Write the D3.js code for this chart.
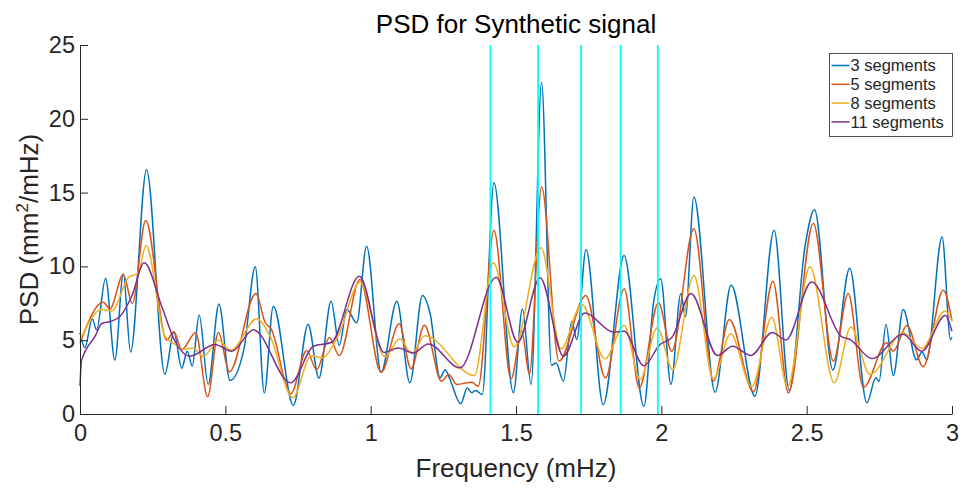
<!DOCTYPE html>
<html>
<head>
<meta charset="utf-8">
<script src="https://d3js.org/d3.v7.min.js"></script>
<style>
  body { margin: 0; background: #fff; }
  text { font-family: "Liberation Sans", Arial, sans-serif; fill: #262626; }
</style>
</head>
<body>
<div id="chart"></div>
<script>
// PSD estimates, [frequency mHz, PSD] read at the turning points of each curve
const seg3 = [
  [0.000, 5.5], [0.017, 4.5], [0.042, 6.45], [0.057, 5.7], [0.088, 9.2], [0.120, 3.65],
  [0.149, 9.5], [0.174, 4.2], [0.229, 16.55], [0.292, 2.7], [0.323, 5.55], [0.350, 3.1],
  [0.369, 4.25], [0.386, 3.25], [0.410, 6.7], [0.441, 2.0], [0.478, 7.45], [0.516, 2.27],
  [0.564, 4.4], [0.603, 9.97], [0.634, 1.42], [0.665, 7.3], [0.734, 0.58], [0.785, 6.06],
  [0.822, 2.43], [0.864, 7.64], [0.892, 4.64], [0.918, 7.08], [0.952, 6.18], [0.986, 11.37],
  [1.036, 2.83], [1.090, 7.64], [1.135, 2.11], [1.178, 8.03], [1.204, 6.86], [1.239, 2.45],
  [1.256, 3.0], [1.273, 2.34], [1.310, 0.69], [1.332, 1.77], [1.348, 1.44], [1.361, 1.6],
  [1.384, 1.32], [1.424, 15.66], [1.491, 1.44], [1.522, 7.12], [1.552, 2.0], [1.588, 22.48],
  [1.622, 3.3], [1.638, 3.45], [1.663, 2.22], [1.692, 6.29], [1.709, 5.05], [1.741, 11.15],
  [1.800, 0.64], [1.872, 10.74], [1.940, 0.53], [1.973, 7.53], [1.998, 9.16], [2.033, 2.0],
  [2.067, 8.16], [2.083, 6.6], [2.112, 14.7], [2.185, 1.48], [2.240, 8.72], [2.322, 1.21],
  [2.388, 12.45], [2.440, 1.61], [2.495, 11.45], [2.527, 13.83], [2.590, 2.98], [2.648, 9.88],
  [2.707, 0.76], [2.738, 2.45], [2.749, 2.2], [2.773, 6.06], [2.798, 2.6], [2.832, 7.08],
  [2.878, 3.67], [2.897, 4.2], [2.913, 3.69], [2.966, 12.0], [2.995, 5.05], [3.000, 5.2]
];
const seg5 = [
  [0.000, 4.8], [0.080, 7.57], [0.103, 7.13], [0.149, 9.45], [0.180, 7.49], [0.226, 13.11],
  [0.298, 5.0], [0.323, 5.57], [0.350, 4.37], [0.398, 5.5], [0.439, 1.17], [0.476, 5.54],
  [0.514, 2.86], [0.605, 8.16], [0.637, 6.2], [0.657, 5.8], [0.725, 1.37], [0.780, 4.3],
  [0.814, 3.0], [0.858, 5.16], [0.892, 3.96], [0.963, 9.11], [1.036, 2.83], [1.098, 6.11],
  [1.139, 3.06], [1.185, 6.02], [1.244, 2.22], [1.269, 2.68], [1.296, 2.0], [1.348, 2.15],
  [1.370, 1.88], [1.424, 12.45], [1.483, 2.38], [1.520, 5.61], [1.546, 2.68], [1.588, 15.39],
  [1.648, 3.58], [1.740, 8.03], [1.808, 2.45], [1.872, 8.48], [1.924, 1.77], [1.990, 7.53],
  [2.036, 4.25], [2.112, 12.55], [2.179, 2.22], [2.234, 6.4], [2.317, 1.5], [2.384, 9.0],
  [2.437, 1.44], [2.523, 12.9], [2.592, 3.58], [2.643, 8.16], [2.695, 1.8], [2.775, 4.82],
  [2.798, 4.25], [2.845, 6.0], [2.901, 3.2], [2.970, 8.39], [3.000, 6.3]
];
const seg8 = [
  [0.000, 5.0], [0.075, 7.08], [0.109, 6.97], [0.166, 9.23], [0.201, 9.57], [0.227, 11.42],
  [0.292, 5.27], [0.327, 4.71], [0.355, 4.37], [0.390, 4.48], [0.424, 3.88], [0.476, 5.0],
  [0.519, 4.32], [0.608, 6.45], [0.654, 5.27], [0.732, 1.1], [0.795, 3.95], [0.831, 3.8],
  [0.888, 5.27], [0.963, 8.93], [1.049, 3.88], [1.101, 5.1], [1.141, 4.1], [1.187, 5.3],
  [1.357, 2.6], [1.422, 10.24], [1.494, 4.55], [1.586, 11.26], [1.655, 4.42], [1.726, 7.42],
  [1.806, 3.74], [1.872, 6.0], [1.927, 2.34], [1.986, 5.84], [2.039, 3.0], [2.112, 9.38],
  [2.179, 2.38], [2.238, 5.43], [2.311, 1.84], [2.380, 6.56], [2.434, 1.84], [2.511, 9.97],
  [2.595, 2.11], [2.652, 5.9], [2.718, 2.68], [2.832, 5.5], [2.896, 4.44], [2.976, 6.97],
  [3.000, 6.3]
];
const seg11 = [
  [0.000, 1.9], [0.005, 3.6], [0.052, 5.27], [0.075, 6.13], [0.109, 6.29], [0.138, 6.63],
  [0.178, 7.98], [0.221, 10.24], [0.281, 7.3], [0.327, 4.93], [0.378, 3.92], [0.464, 4.71],
  [0.522, 4.25], [0.597, 5.7], [0.725, 2.11], [0.803, 4.59], [0.866, 4.86], [0.961, 9.34],
  [1.046, 4.17], [1.095, 4.48], [1.147, 4.14], [1.198, 4.75], [1.307, 3.13], [1.432, 9.27],
  [1.506, 4.86], [1.583, 9.23], [1.663, 3.92], [1.737, 6.84], [1.835, 5.55], [1.872, 5.61],
  [1.940, 3.27], [1.995, 4.7], [2.037, 5.2], [2.102, 8.16], [2.193, 3.96], [2.245, 4.59],
  [2.308, 3.97], [2.382, 5.52], [2.429, 5.02], [2.517, 8.95], [2.620, 5.24], [2.649, 5.05],
  [2.724, 3.76], [2.832, 5.41], [2.896, 4.25], [2.977, 6.67], [3.000, 5.6]
];

const seriesNames = ['3 segments', '5 segments', '8 segments', '11 segments'];
const seriesData = [seg3, seg5, seg8, seg11];
const seriesColors = ['#0072BD', '#D95319', '#EDB120', '#7E2F8E'];

// marked frequencies of the synthetic signal
const markFreqs = [1.412, 1.576, 1.724, 1.860, 1.988];

const xTicks = [0, 0.5, 1, 1.5, 2, 2.5, 3];
const yTicks = [0, 5, 10, 15, 20, 25];

const width = 963, height = 488;
const margin = { top: 45, right: 11, bottom: 74, left: 80 };

const svg = d3.select('#chart')
  .append('svg')
  .attr('width', width)
  .attr('height', height);

const x = d3.scaleLinear().domain([0, 3]).range([margin.left, width - margin.right]);
const y = d3.scaleLinear().domain([0, 25]).range([height - margin.bottom, margin.top]);

const line = d3.line()
  .x(d => x(d[0]))
  .y(d => y(d[1]))
  .curve(d3.curveMonotoneX);

// curves
svg.append('g')
  .selectAll('path')
  .data(seriesData)
  .join('path')
  .attr('d', d => line(d))
  .attr('fill', 'none')
  .attr('stroke', (d, i) => seriesColors[i])
  .attr('stroke-width', 1.5)
  .attr('stroke-linejoin', 'round');

// vertical marker lines
svg.append('g')
  .selectAll('line')
  .data(markFreqs)
  .join('line')
  .attr('x1', d => x(d)).attr('x2', d => x(d))
  .attr('y1', y(0)).attr('y2', y(25))
  .attr('stroke', '#00FFFF')
  .attr('stroke-width', 1.8);

// axes, ticks pointing inward like MATLAB
const xAxis = svg.append('g')
  .attr('transform', `translate(0,${y(0)})`)
  .call(d3.axisBottom(x).tickValues(xTicks).tickFormat(d3.format('')).tickSizeInner(-8).tickSizeOuter(0).tickPadding(10));
const yAxis = svg.append('g')
  .attr('transform', `translate(${x(0)},0)`)
  .call(d3.axisLeft(y).tickValues(yTicks).tickSizeInner(-8).tickSizeOuter(0).tickPadding(5));

[xAxis, yAxis].forEach(g => {
  g.select('.domain').attr('stroke', '#262626').attr('stroke-width', 1);
  g.selectAll('.tick line').attr('stroke', '#262626');
  g.selectAll('.tick text').attr('font-size', 23.5).attr('fill', '#262626')
    .style('font-family', '"Liberation Sans", Arial, sans-serif');
});

// title and axis labels
svg.append('text')
  .attr('x', (x(0) + x(3)) / 2)
  .attr('y', 33)
  .attr('text-anchor', 'middle')
  .attr('font-size', 26)
  .style('fill', '#000')
  .text('PSD for Synthetic signal');

svg.append('text')
  .attr('x', (x(0) + x(3)) / 2)
  .attr('y', 477)
  .attr('text-anchor', 'middle')
  .attr('font-size', 26)
  .text('Frequency (mHz)');

const yLabel = svg.append('text')
  .attr('transform', `translate(38,${(y(0) + y(25)) / 2}) rotate(-90)`)
  .attr('text-anchor', 'middle')
  .attr('font-size', 26);
yLabel.append('tspan').text('PSD (mm');
yLabel.append('tspan').attr('dy', -10).attr('font-size', 17).text('2');
yLabel.append('tspan').attr('dy', 10).text('/mHz)');

// legend
const legend = svg.append('g').attr('transform', 'translate(829.5,53.5)');
legend.append('rect')
  .attr('width', 123).attr('height', 83)
  .attr('fill', '#fff')
  .attr('stroke', '#262626')
  .attr('stroke-width', 0.8);

const rows = legend.selectAll('g.row')
  .data(seriesNames)
  .join('g')
  .attr('class', 'row')
  .attr('transform', (d, i) => `translate(0,${12 + i * 18.8})`);

rows.append('line')
  .attr('x1', 2).attr('x2', 20)
  .attr('stroke', (d, i) => seriesColors[i])
  .attr('stroke-width', 1.5);

rows.append('text')
  .attr('x', 21)
  .attr('dy', '0.35em')
  .attr('font-size', 16.5)
  .text(d => d);
</script>
</body>
</html>
